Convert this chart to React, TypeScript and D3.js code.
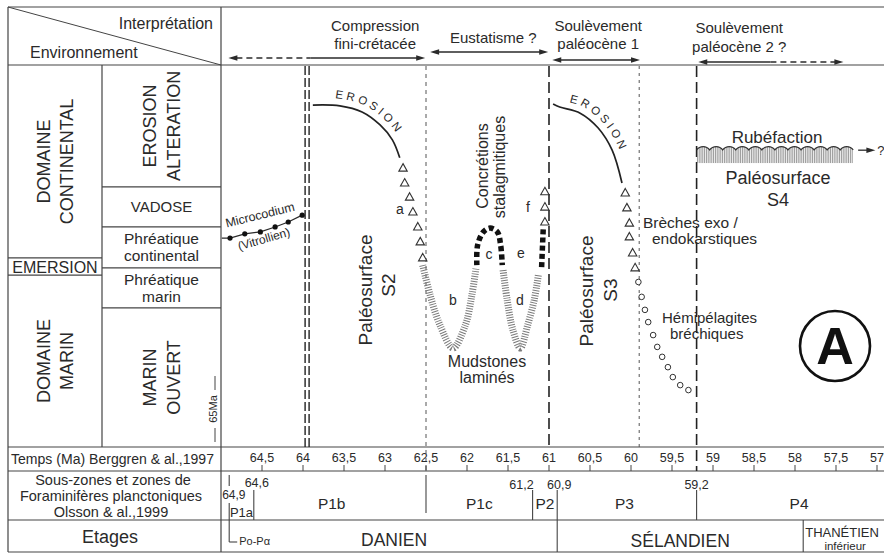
import React from "react";
import * as d3 from "d3";

type P = [number, number];

// ---------- Time axis (Ma) ----------
const timeTicks = [64.5, 64, 63.5, 63, 62.5, 62, 61.5, 61, 60.5, 60, 59.5, 59, 58.5, 58, 57.5, 57];

// ---------- Environment rows (level 0 = open marine … 100 = erosion) ----------
const envLabels = [["EROSION", "ALTERATION"], ["VADOSE"], ["Phréatique", "continental"], ["Phréatique", "marin"], ["MARIN", "OUVERT"]];
const envRotated = [true, false, false, false, true];
const envBounds = [100, 68.1, 57.6, 46.9, 36.4, 0];
const domainLabels = [["DOMAINE", "CONTINENTAL"], ["EMERSION"], ["DOMAINE", "MARIN"]];
const domainRotated = [true, false, true];
const domainBounds = [100, 49.5, 45.0, 0];

// ---------- Interpretations ----------
const interpLabels = [["Compression", "fini-crétacée"], ["Eustatisme ?"], ["Soulèvement", "paléocène 1"], ["Soulèvement", "paléocène 2 ?"]];
const interpLabelTimes = [63.12, 61.68, 60.4, 58.68];
const interpRange: P[] = [[64.91, 62.51], [62.45, 61.01], [60.96, 59.89], [59.18, 57.41]];
const interpDashed: (P | null)[] = [[64.91, 63.91], null, null, [58.3, 57.41]];

// ---------- Event (vertical) lines ----------
const eventTimes = [63.95, 62.5, 61.0, 59.9, 59.2];
const eventKinds = ["double", "fine", "long", "short", "long"];

// ---------- Planktonic foraminifera zones (Olsson et al. 1999) ----------
const zoneNames = ["P1a", "P1b", "P1c", "P2", "P3", "P4"];
const zoneLabelTimes = [64.75, 63.65, 61.85, 61.05, 60.08, 57.95];
const zoneBoundTimes = [64.9, 64.6, 62.5, 61.2, 60.9, 59.2];
const zoneBoundLabels = ["64,9", "64,6", "", "61,2", "60,9", "59,2"];

// ---------- Stages ----------
const stageNames = ["DANIEN", "SÉLANDIEN", "THANÉTIEN"];
const stageBounds = [65, 60.9, 57.9, 56.8];

// ---------- Curves: [time Ma, environment level] ----------
const microcodiumStart: P = [64.99, 54.7];
const microcodium: P[] = [[64.89, 54.7], [64.71, 55.8], [64.52, 56.3], [64.34, 57.6], [64.18, 58.9], [64.01, 60.7]];
const erosion1: P[] = [[63.88, 89.5], [63.55, 89.3], [63.28, 87.7], [63.06, 84.3], [62.91, 80.4], [62.82, 75.7]];
const breccia1: P[] = [[62.78, 73.0], [62.76, 69.1], [62.7, 65.4], [62.66, 61.5], [62.6, 57.6], [62.57, 53.7], [62.54, 49.5]];
const mudstoneB: P[] = [[62.54, 47.6], [62.45, 39.8], [62.33, 31.9], [62.17, 25.9], [62.02, 31.9], [61.94, 39.8], [61.89, 46.9]];
const concretionC: P[] = [[61.88, 47.6], [61.87, 52.9], [61.8, 56.3], [61.72, 57.3], [61.63, 56.3], [61.59, 52.9], [61.57, 47.6]];
const mudstoneD: P[] = [[61.56, 46.3], [61.51, 38.5], [61.44, 30.6], [61.35, 25.9], [61.26, 31.9], [61.18, 38.5], [61.13, 45.0]];
const concretionF: P[] = [[61.09, 47.1], [61.07, 57.3]];
const brecciaF: P[] = [[61.05, 66.8], [61.05, 62.8], [61.05, 58.9]];
const erosion2: P[] = [[60.95, 89.8], [60.87, 89.0], [60.62, 87.4], [60.4, 83.5], [60.23, 77.7], [60.11, 69.1]];
const breccia2: P[] = [[60.07, 66.5], [60.05, 62.6], [60.02, 58.6], [60.02, 55.0], [59.98, 50.8], [59.95, 46.9]];
const hemipelagites: P[] = [[59.91, 43.2], [59.87, 39.3], [59.83, 35.9], [59.79, 32.7], [59.73, 29.3], [59.68, 26.2], [59.62, 23.6], [59.55, 20.9], [59.49, 18.3], [59.4, 16.2], [59.3, 14.9]];
const rubefactionSpan: P = [59.2, 57.29];
const rubefactionLevels: P = [78.3, 74.3];
const rubefactionArrow: P = [57.23, 57.02];
const rubefactionArrowLevel = 77.7;

export default function App() {
  const W = 884, H = 557;
  const x = d3.scaleLinear().domain([65, 57]).range([221, 877]);
  const y = d3.scaleLinear().domain([0, 100]).range([447, 65]);
  const smooth = d3.line<P>().x(d => x(d[0])).y(d => y(d[1])).curve(d3.curveCatmullRom.alpha(0.5));
  const straight = d3.line<P>().x(d => x(d[0])).y(d => y(d[1]));
  const pxSmooth = d3.line<[number, number]>().curve(d3.curveCatmullRom.alpha(0.5));

  const font = "'Liberation Sans', Arial, Helvetica, sans-serif";
  const ink = "#2a2a2a";
  const grid = "#444";

  const offsetPts = (pts: P[], d: number): [number, number][] => {
    const px = pts.map(p => [x(p[0]), y(p[1])] as [number, number]);
    return px.map((p, i) => {
      const a = px[Math.max(0, i - 1)], b = px[Math.min(px.length - 1, i + 1)];
      const tx = b[0] - a[0], ty = b[1] - a[1];
      const L = Math.hypot(tx, ty) || 1;
      return [p[0] + (ty / L) * d, p[1] - (tx / L) * d];
    });
  };
  const ero1Path = pxSmooth(offsetPts(erosion1, 7)) || "";
  const ero2Path = pxSmooth(offsetPts(erosion2, 7)) || "";

  const head = (xt: number, yy: number, dir: number) =>
    `M${xt},${yy} L${xt - dir * 9},${yy - 2.7} L${xt - dir * 9},${yy + 2.7} Z`;
  const tri = (cx: number, cy: number) => `M${cx},${cy - 4.5} L${cx + 4.2},${cy + 3} L${cx - 4.2},${cy + 3} Z`;

  // rubéfaction band geometry
  const rx0 = x(rubefactionSpan[0]), rx1 = x(rubefactionSpan[1]);
  const ryT = y(rubefactionLevels[0]), ryB = y(rubefactionLevels[1]);
  const nSc = Math.round((rx1 - rx0) / 13);
  const scW = (rx1 - rx0) / nSc;
  let wave = `M${rx0},${ryT + 2}`;
  for (let i = 0; i < nSc; i++) wave += ` A${scW * 0.62},${scW * 0.62} 0 0 1 ${rx0 + scW * (i + 1)},${ryT + 2}`;
  const hatch: number[] = [];
  for (let xx = rx0 + 0.8; xx < rx1; xx += 1.8) hatch.push(xx);

  const interpY = [58, 52, 60, 62];
  const interpBase = [[31, 49], [43], [31, 49], [33, 52]];

  const eventEnd = [447, 471, 447, 447, 471];
  const eventDash: Record<string, string> = { double: "9 3", fine: "4 4", long: "11 5", short: "3 4" };
  const eventWidth: Record<string, number> = { double: 1.4, fine: 1, long: 1.6, short: 1 };

  const zoneLines: [number, number][][] = [[[475, 486], [503, 542]], [[490, 520]], [[475, 513]], [[490, 520]], [[490, 552]], [[490, 520]]];

  return (
    <svg width={W} height={H} viewBox={`0 0 ${W} ${H}`} fontFamily={font}
      style={{ position: "absolute", left: 0, top: 0, display: "block", background: "#fff" }}>
      <rect x={0} y={0} width={W} height={H} fill="#fff" />
      <defs>
        <clipPath id="rubClip">
          <path d={`${wave} L${rx1},${ryB} L${rx0},${ryB} Z`} />
        </clipPath>
        <path id="ero1" d={ero1Path} />
        <path id="ero2" d={ero2Path} />
      </defs>

      {/* ---------- frame ---------- */}
      <g stroke={grid} strokeWidth={1.2} fill="none">
        <line x1={8} y1={7} x2={W} y2={7} />
        <line x1={8} y1={65} x2={W} y2={65} />
        <line x1={8} y1={447} x2={W} y2={447} />
        <line x1={8} y1={471} x2={W} y2={471} />
        <line x1={8} y1={520} x2={W} y2={520} />
        <line x1={8} y1={552} x2={W} y2={552} />
        <line x1={8} y1={7} x2={8} y2={552} />
        <line x1={221} y1={7} x2={221} y2={552} />
        <line x1={102} y1={65} x2={102} y2={447} />
        <line x1={8} y1={7} x2={221} y2={65} strokeWidth={1} />
        {envBounds.slice(1, -1).map((b, i) => <line key={"eb" + i} x1={102} x2={221} y1={y(b)} y2={y(b)} />)}
        {domainBounds.slice(1, -1).map((b, i) => <line key={"db" + i} x1={8} x2={102} y1={y(b)} y2={y(b)} />)}
      </g>

      {/* ---------- header ---------- */}
      <text x={213} y={29} fontSize={16} fill={ink} textAnchor="end">Interprétation</text>
      <text x={30} y={58} fontSize={16} fill={ink}>Environnement</text>

      {/* ---------- left table labels ---------- */}
      {envLabels.map((lines, i) => {
        const cy = (y(envBounds[i]) + y(envBounds[i + 1])) / 2;
        const cx = 161.5;
        if (envRotated[i]) {
          return lines.map((t, j) => (
            <text key={"el" + i + j} transform={`translate(${cx + (j - 0.5) * 24},${cy}) rotate(-90)`}
              fontSize={18} fill={ink} textAnchor="middle" dominantBaseline="central">{t}</text>
          ));
        }
        return lines.map((t, j) => (
          <text key={"el" + i + j} x={cx} y={cy + (j - (lines.length - 1) / 2) * 17}
            fontSize={lines.length === 1 ? 15 : 15.5} fill={ink} textAnchor="middle" dominantBaseline="central">{t}</text>
        ));
      })}
      {domainLabels.map((lines, i) => {
        const cy = (y(domainBounds[i]) + y(domainBounds[i + 1])) / 2;
        const cx = 55;
        if (domainRotated[i]) {
          return lines.map((t, j) => (
            <text key={"dl" + i + j} transform={`translate(${cx + (j - 0.5) * 23},${cy}) rotate(-90)`}
              fontSize={18} fill={ink} textAnchor="middle" dominantBaseline="central">{t}</text>
          ));
        }
        return <text key={"dl" + i} x={cx} y={cy + 1} fontSize={16} fill={ink} textAnchor="middle" dominantBaseline="central">{lines[0]}</text>;
      })}

      {/* 65 Ma marker */}
      <g stroke={grid} strokeWidth={1}>
        <line x1={215} x2={215} y1={376} y2={390} />
        <line x1={215} x2={215} y1={428} y2={442} />
      </g>
      <text transform="translate(213,409) rotate(-90)" fontSize={11} fill={ink} textAnchor="middle" dominantBaseline="central">65Ma</text>

      {/* ---------- interpretation arrows ---------- */}
      {interpRange.map((r, i) => {
        const yy = interpY[i];
        const dsh = interpDashed[i];
        const s0 = dsh && dsh[0] === r[0] ? dsh[1] : r[0];
        const s1 = dsh && dsh[1] === r[1] ? dsh[0] : r[1];
        return (
          <g key={"ia" + i} stroke={ink} fill={ink}>
            <line x1={x(s0) + (s0 === r[0] ? 8 : 0)} x2={x(s1) - (s1 === r[1] ? 8 : 0)} y1={yy} y2={yy} strokeWidth={1.4} />
            {dsh && (
              <line x1={x(dsh[0]) + (dsh[0] === r[0] ? 8 : 0)} x2={x(dsh[1]) - (dsh[1] === r[1] ? 8 : 0)} y1={yy} y2={yy}
                strokeWidth={1.4} strokeDasharray="6 4" />
            )}
            <path d={head(x(r[0]), yy, -1)} stroke="none" />
            <path d={head(x(r[1]), yy, 1)} stroke="none" />
          </g>
        );
      })}
      {interpLabels.map((lines, i) => lines.map((t, j) => (
        <text key={"il" + i + j} x={x(interpLabelTimes[i])} y={interpBase[i][j]} fontSize={15} fill={ink} textAnchor="middle">{t}</text>
      )))}

      {/* ---------- vertical event lines ---------- */}
      {eventTimes.map((t, i) => {
        const k = eventKinds[i];
        if (k === "double") {
          return (
            <g key={"ev" + i} stroke="#222" strokeWidth={eventWidth[k]} strokeDasharray={eventDash[k]}>
              <line x1={x(t) - 2} x2={x(t) - 2} y1={66} y2={eventEnd[i]} />
              <line x1={x(t) + 2} x2={x(t) + 2} y1={66} y2={eventEnd[i]} />
            </g>
          );
        }
        return <line key={"ev" + i} x1={x(t)} x2={x(t)} y1={66} y2={eventEnd[i]} stroke={k === "fine" || k === "short" ? "#555" : "#222"}
          strokeWidth={eventWidth[k]} strokeDasharray={eventDash[k]} />;
      })}

      {/* ---------- Microcodium ---------- */}
      <path d={straight([microcodiumStart, ...microcodium]) || ""} fill="none" stroke={ink} strokeWidth={1.2} />
      {microcodium.map((p, i) => <circle key={"mc" + i} cx={x(p[0])} cy={y(p[1])} r={2.6} fill="#111" />)}
      <text transform="translate(261,219) rotate(-14)" fontSize={12.5} fill={ink} textAnchor="middle">Microcodium</text>
      <text transform="translate(265,243) rotate(-16)" fontSize={12} fill={ink} textAnchor="middle">(Vitrollien)</text>

      {/* ---------- Erosion curves ---------- */}
      <path d={smooth(erosion1) || ""} fill="none" stroke="#222" strokeWidth={1.7} />
      <path d={smooth(erosion2) || ""} fill="none" stroke="#222" strokeWidth={1.7} />
      <text fontSize={11.5} fill={ink} letterSpacing={3.2}>
        <textPath href="#ero1" startOffset={22}>EROSION</textPath>
      </text>
      <text fontSize={11.5} fill={ink} letterSpacing={3.2}>
        <textPath href="#ero2" startOffset={14}>EROSION</textPath>
      </text>

      {/* ---------- breccias ---------- */}
      {[...breccia1, ...brecciaF, ...breccia2].map((p, i) => (
        <path key={"br" + i} d={tri(x(p[0]), y(p[1]))} fill="#fff" stroke="#333" strokeWidth={1.1} />
      ))}
      {hemipelagites.map((p, i) => (
        <circle key={"hp" + i} cx={x(p[0])} cy={y(p[1])} r={2.8} fill="#fff" stroke="#333" strokeWidth={1} />
      ))}

      {/* ---------- mudstones (hatched) ---------- */}
      {[mudstoneB, mudstoneD].map((c, i) => (
        <path key={"md" + i} d={smooth(c) || ""} fill="none" stroke="#7a7a7a" strokeWidth={7} strokeDasharray="1 1.5" />
      ))}
      {/* ---------- concretions (black squares) ---------- */}
      {[concretionC, concretionF].map((c, i) => (
        <path key={"cc" + i} d={smooth(c) || ""} fill="none" stroke="#111" strokeWidth={5.5} strokeDasharray="5 3.2" />
      ))}

      {/* letters */}
      <g fontSize={14} fill={ink} textAnchor="middle" dominantBaseline="central">
        <text x={400} y={209}>a</text>
        <text x={453} y={300}>b</text>
        <text x={489} y={254}>c</text>
        <text x={520} y={300}>d</text>
        <text x={521} y={253}>e</text>
        <text x={528} y={207}>f</text>
      </g>

      {/* ---------- annotations ---------- */}
      <text transform="translate(482,166) rotate(-90)" fontSize={16} fill={ink} textAnchor="middle" dominantBaseline="central">Concrétions</text>
      <text transform="translate(499,167) rotate(-90)" fontSize={16} fill={ink} textAnchor="middle" dominantBaseline="central">stalagmitiques</text>
      <text x={487} y={367} fontSize={16} fill={ink} textAnchor="middle">Mudstones</text>
      <text x={487} y={383} fontSize={16} fill={ink} textAnchor="middle">laminés</text>

      <text transform="translate(365,290) rotate(-90)" fontSize={19} fill={ink} textAnchor="middle" dominantBaseline="central">Paléosurface</text>
      <text transform="translate(388,285) rotate(-90)" fontSize={19} fill={ink} textAnchor="middle" dominantBaseline="central">S2</text>
      <text transform="translate(586,291) rotate(-90)" fontSize={19} fill={ink} textAnchor="middle" dominantBaseline="central">Paléosurface</text>
      <text transform="translate(610,290) rotate(-90)" fontSize={19} fill={ink} textAnchor="middle" dominantBaseline="central">S3</text>

      <text x={643} y={228} fontSize={15.5} fill={ink}>Brèches exo /</text>
      <text x={652} y={244} fontSize={15.5} fill={ink}>endokarstiques</text>
      <text x={662} y={323} fontSize={15} fill={ink}>Hémipélagites</text>
      <text x={670} y={339} fontSize={15} fill={ink}>bréchiques</text>

      {/* ---------- Rubéfaction ---------- */}
      <g clipPath="url(#rubClip)">
        {hatch.map((xx, i) => <line key={"h" + i} x1={xx} x2={xx} y1={ryT - 3} y2={ryB} stroke="#8a8a8a" strokeWidth={0.9} />)}
      </g>
      <path d={wave} fill="none" stroke="#333" strokeWidth={1.2} />
      <line x1={x(rubefactionArrow[0])} x2={x(rubefactionArrow[1]) - 7} y1={y(rubefactionArrowLevel)} y2={y(rubefactionArrowLevel)} stroke={ink} strokeWidth={1.3} />
      <path d={head(x(rubefactionArrow[1]), y(rubefactionArrowLevel), 1)} fill={ink} />
      <text x={x(rubefactionArrow[1]) + 2} y={y(rubefactionArrowLevel) + 5} fontSize={13} fill={ink}>?</text>
      <text x={777} y={143} fontSize={17} fill={ink} textAnchor="middle">Rubéfaction</text>
      <text x={778} y={184} fontSize={18} fill={ink} textAnchor="middle">Paléosurface</text>
      <text x={778} y={206} fontSize={18} fill={ink} textAnchor="middle">S4</text>

      {/* ---------- A ---------- */}
      <circle cx={835} cy={346} r={35} fill="none" stroke="#111" strokeWidth={2.6} />
      <text x={835} y={364} fontSize={52} fontWeight="bold" fill="#111" textAnchor="middle">A</text>

      {/* ---------- bottom table ---------- */}
      <text x={11} y={464} fontSize={14} fill={ink} textLength={203} lengthAdjust="spacingAndGlyphs">Temps (Ma) Berggren &amp; al.,1997</text>
      <text x={113} y={485} fontSize={14.5} fill={ink} textAnchor="middle">Sous-zones et zones de</text>
      <text x={111} y={501} fontSize={14.5} fill={ink} textAnchor="middle">Foraminifères planctoniques</text>
      <text x={111} y={517} fontSize={14.5} fill={ink} textAnchor="middle">Olsson &amp; al.,1999</text>
      <text x={110} y={543} fontSize={18} fill={ink} textAnchor="middle">Etages</text>

      {timeTicks.map((t, i) => (
        <g key={"tk" + i}>
          <line x1={x(t)} x2={x(t)} y1={465} y2={471} stroke={grid} strokeWidth={1} />
          <text x={x(t)} y={462} fontSize={12.5} fill={ink} textAnchor="middle">{String(t).replace(".", ",")}</text>
        </g>
      ))}

      {zoneBoundTimes.map((t, i) => (
        <g key={"zb" + i} stroke={grid} strokeWidth={1.1}>
          {zoneLines[i].map((seg, j) => <line key={j} x1={x(t)} x2={x(t)} y1={seg[0]} y2={seg[1]} />)}
        </g>
      ))}
      <line x1={x(64.9)} x2={x(64.9) + 8} y1={542} y2={542} stroke={grid} strokeWidth={1.1} />
      <g fontSize={12.5} fill={ink}>
        <text x={x(zoneBoundTimes[0]) - 7} y={499} fontSize={12}>{zoneBoundLabels[0]}</text>
        <text x={x(zoneBoundTimes[1]) + 3} y={487} textAnchor="middle">{zoneBoundLabels[1]}</text>
        <text x={x(zoneBoundTimes[3]) + 1} y={489} textAnchor="end">{zoneBoundLabels[3]}</text>
        <text x={x(zoneBoundTimes[4]) + 2} y={489} textAnchor="middle">{zoneBoundLabels[4]}</text>
        <text x={x(zoneBoundTimes[5])} y={489} textAnchor="middle">{zoneBoundLabels[5]}</text>
      </g>
      {zoneNames.map((z, i) => (
        <text key={"zn" + i} x={x(zoneLabelTimes[i])} y={i === 0 ? 517 : 509} fontSize={i === 0 ? 13 : 15.5} fill={ink} textAnchor="middle">{z}</text>
      ))}

      <line x1={x(stageBounds[2])} x2={x(stageBounds[2])} y1={520} y2={552} stroke={grid} strokeWidth={1.1} />
      <text x={x(64.9) + 10} y={545} fontSize={11} fill={ink}>Po-Pα</text>
      <text x={(x(stageBounds[0]) + x(stageBounds[1])) / 2 + 5} y={546} fontSize={17.5} fill={ink} textAnchor="middle">{stageNames[0]}</text>
      <text x={(x(stageBounds[1]) + x(stageBounds[2])) / 2} y={547} fontSize={17.5} fill={ink} textAnchor="middle">{stageNames[1]}</text>
      <text x={x(stageBounds[2]) + 2} y={537} fontSize={13} fill={ink}>{stageNames[2]}</text>
      <text x={x(stageBounds[2]) + 42} y={550} fontSize={11.5} fill={ink} textAnchor="middle">inférieur</text>
    </svg>
  );
}
